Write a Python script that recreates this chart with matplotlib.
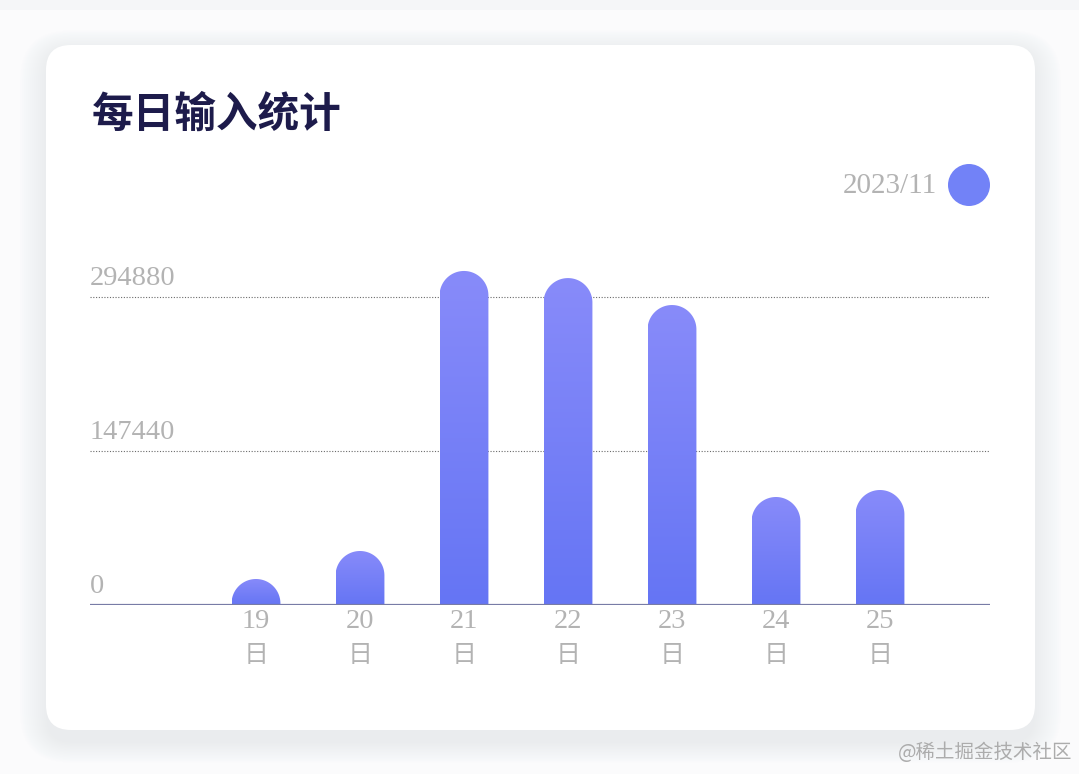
import numpy as np
import matplotlib.pyplot as plt
from matplotlib.patches import FancyBboxPatch, PathPatch, Circle
from matplotlib.path import Path
from matplotlib.colors import LinearSegmentedColormap

plt.rcParams['font.family'] = ['Liberation Serif', 'Noto Sans CJK SC', 'DejaVu Sans']

# data
days = ['19', '20', '21', '22', '23', '24', '25']
counts = [24900, 51700, 319800, 313000, 287200, 103400, 110100]
yticks = [0, 147440, 294880]
title = '每日输入统计'
legend_label = '2023/11'
watermark = '@稀土掘金技术社区'

W, H = 1079, 774
fig = plt.figure(figsize=(W / 100, H / 100), dpi=100)
fig.patch.set_facecolor('#fbfbfc')

# background layer in pixel coordinates: card, shadow, title, legend
bg = fig.add_axes([0, 0, 1, 1])
bg.set_xlim(0, W)
bg.set_ylim(H, 0)
bg.axis('off')

bg.add_patch(plt.Rectangle((0, 0), W, 10, color='#f5f6f8', lw=0))
for i in range(14):
    bg.add_patch(FancyBboxPatch((46 - i * 2, 50 - i * 1.5), 989 + i * 4, 685 + i * 3 + 8,
                                boxstyle='round,pad=0,rounding_size=%d' % (25 + i * 2),
                                fc='#dfe3ec', ec='none', alpha=0.045))
bg.add_patch(FancyBboxPatch((46, 45), 989, 685, boxstyle='round,pad=0,rounding_size=25',
                            fc='white', ec='none'))

bg.text(92, 115, title, fontsize=30, fontweight='heavy', color='#1d1b4b',
        family=['Noto Sans CJK SC'], va='center', ha='left')
bg.text(937, 186, legend_label, fontsize=21, color='#b3b3b3', va='center', ha='right')
bg.add_patch(Circle((969, 185), 21, fc='#7282f7', ec='none'))
bg.text(1072, 752, watermark, fontsize=14, color='#acacac', va='center', ha='right',
        family=['Noto Sans CJK SC'])

# chart axes
x0_px, x1_px, base_px = 90, 990, 605
y_per_px = 147440 / 154.0
ymax = 355 * y_per_px
xmin, xmax = -1.596, 7.058
ax = fig.add_axes([x0_px / W, (H - base_px) / H, (x1_px - x0_px) / W, 355 / H])
ax.patch.set_alpha(0)
for s in ax.spines.values():
    s.set_visible(False)
ax.set_xticks([])
ax.set_yticks([])

bar_w = 0.47
px_per_x = (x1_px - x0_px) / (xmax - xmin)
ry = (bar_w / 2) * px_per_x * y_per_px

cmap = LinearSegmentedColormap.from_list('bar', ['#6575f4', '#888bfa'])
grad = np.linspace(0, 1, 256).reshape(-1, 1)

for i, v in enumerate(counts):
    r = min(ry, v)
    left, right = i - bar_w / 2, i + bar_w / 2
    t = np.linspace(np.pi, 0, 60)
    pts = [(left, 0), (left, v - r)]
    pts += list(zip(i + bar_w / 2 * np.cos(t), v - r + r * np.sin(t)))
    pts += [(right, 0), (left, 0)]
    codes = [Path.MOVETO] + [Path.LINETO] * (len(pts) - 2) + [Path.CLOSEPOLY]
    patch = PathPatch(Path(pts, codes), fc='none', ec='none')
    ax.add_patch(patch)
    im = ax.imshow(grad, extent=[left, right, 0, v], origin='lower', aspect='auto',
                   cmap=cmap, interpolation='bilinear', zorder=2)
    im.set_clip_path(patch)

for v in yticks[1:]:
    ax.axhline(v, color='#6b6b6b', lw=0.8, ls=(0, (1, 1.5)), zorder=1)
ax.axhline(0, color='#787ca6', lw=1.6, zorder=3)

for v in yticks:
    ax.annotate(str(v), xy=(0, v), xycoords=('axes fraction', 'data'),
                xytext=(0, 6), textcoords='offset pixels', fontsize=20.5,
                color='#b3b3b3', ha='left', va='bottom')

for i, d in enumerate(days):
    ax.annotate(d, xy=(i, 0), xytext=(0, -4), textcoords='offset pixels',
                fontsize=20.5, color='#b3b3b3', ha='center', va='top')
    ax.annotate('日', xy=(i, 0), xytext=(0, -37), textcoords='offset pixels',
                fontsize=18, color='#b3b3b3', ha='center', va='top',
                family=['Noto Sans CJK SC'])

ax.set_xlim(xmin, xmax)
ax.set_ylim(0, ymax)

fig.savefig('out.png', dpi=100, facecolor=fig.get_facecolor())
